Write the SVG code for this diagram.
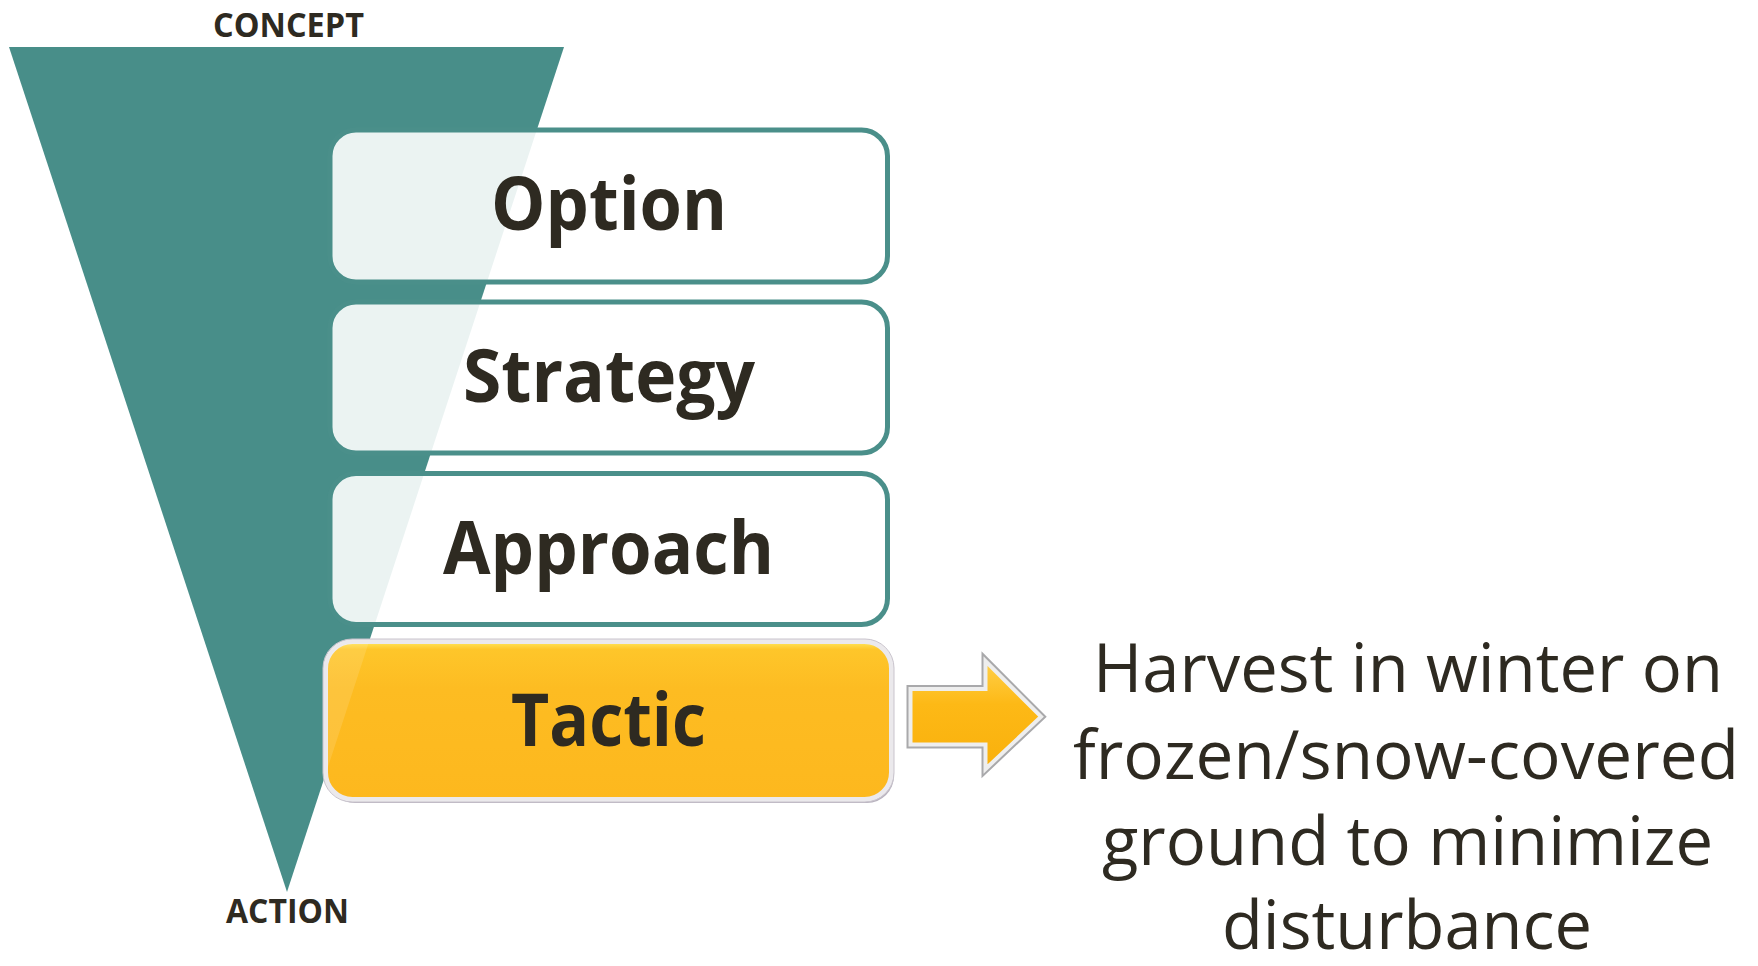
<svg xmlns="http://www.w3.org/2000/svg" width="1758" height="966" viewBox="0 0 1758 966">
  <style>
    .lbl { font-family: "Open Sans", "Noto Sans", "Liberation Sans", sans-serif; font-weight: 700; fill: #2e2a21; text-anchor: middle; }
    .box { fill: #ffffff; fill-opacity: 0.89; stroke: #4a8f8a; stroke-width: 5; }
    .big { font-size: 74px; }
    .small { font-size: 34px; }
    .desc { font-family: "Open Sans", "Noto Sans", "Liberation Sans", sans-serif; font-weight: 400; font-size: 67px; fill: #2e2a21; text-anchor: middle; }
  </style>
  <defs>
    <linearGradient id="gTactic" x1="0" y1="0" x2="0" y2="1">
      <stop offset="0" stop-color="#ffe85e"/>
      <stop offset="0.05" stop-color="#fec62a"/>
      <stop offset="0.3" stop-color="#fdbc22"/>
      <stop offset="1" stop-color="#fdb81e"/>
    </linearGradient>
    <linearGradient id="gArrow" x1="0" y1="0" x2="0" y2="1">
      <stop offset="0" stop-color="#ffd04a"/>
      <stop offset="0.4" stop-color="#fdb916"/>
      <stop offset="1" stop-color="#f9b00c"/>
    </linearGradient>
    <clipPath id="clipTactic">
      <rect x="327" y="643" width="563" height="156" rx="25"/>
    </clipPath>
  </defs>

  <rect width="1758" height="966" fill="#ffffff"/>

  <g id="funnel">
    <polygon points="9,47 564,47 287,892" fill="#488e89"/>
  </g>

  <g id="label-concept">
    <text class="lbl small" x="288.5" y="37" textLength="151" lengthAdjust="spacingAndGlyphs">CONCEPT</text>
  </g>
  <g id="label-action">
    <text class="lbl small" x="287.5" y="922.5" font-size="33" textLength="123" lengthAdjust="spacingAndGlyphs">ACTION</text>
  </g>

  <g id="option">
    <rect class="box" x="330" y="130" width="557.5" height="152" rx="26"/>
    <text class="lbl big" x="609" y="230" textLength="236" lengthAdjust="spacingAndGlyphs">Option</text>
  </g>

  <g id="strategy">
    <rect class="box" x="330" y="302" width="557.5" height="151" rx="26"/>
    <text class="lbl big" x="609" y="401.5" textLength="292" lengthAdjust="spacingAndGlyphs">Strategy</text>
  </g>

  <g id="approach">
    <rect class="box" x="330" y="473.5" width="557.5" height="151" rx="26"/>
    <text class="lbl big" x="608.5" y="573.5" textLength="331" lengthAdjust="spacingAndGlyphs">Approach</text>
  </g>

  <g id="tactic">
    <rect x="328" y="645" width="566" height="158" rx="27" fill="#9a92a3" opacity="0.7"/>
    <rect x="325.5" y="641.5" width="566" height="158" rx="27" fill="url(#gTactic)" stroke="#ebe9ec" stroke-width="5"/>
    <rect x="323" y="639" width="571" height="163" rx="29" fill="none" stroke="#c9c4cd" stroke-width="1"/>
    <polygon points="9,47 564,47 287,892" fill="#ffffff" opacity="0.12" clip-path="url(#clipTactic)"/>
    <text class="lbl big" x="608.5" y="745.5" textLength="195" lengthAdjust="spacingAndGlyphs">Tactic</text>
  </g>

  <g id="connectors">
    <polygon points="910.5,689 985.5,689 985.5,661 1041,716.7 985.5,769 985.5,744.5 910.5,744.5" fill="url(#gArrow)" stroke="#a9a9ab" stroke-width="8" stroke-linejoin="miter"/>
    <polygon points="910.5,689 985.5,689 985.5,661 1041,716.7 985.5,769 985.5,744.5 910.5,744.5" fill="url(#gArrow)" stroke="#eeeeee" stroke-width="4" stroke-linejoin="miter"/>
  </g>

  <g id="description">
    <text class="desc" x="1408" y="692" textLength="630" lengthAdjust="spacingAndGlyphs">Harvest in winter on</text>
    <text class="desc" x="1406" y="779" textLength="666" lengthAdjust="spacingAndGlyphs">frozen/snow-covered</text>
    <text class="desc" x="1407.5" y="865" textLength="611" lengthAdjust="spacingAndGlyphs">ground to minimize</text>
    <text class="desc" x="1407" y="949" textLength="370" lengthAdjust="spacingAndGlyphs">disturbance</text>
  </g>
</svg>
